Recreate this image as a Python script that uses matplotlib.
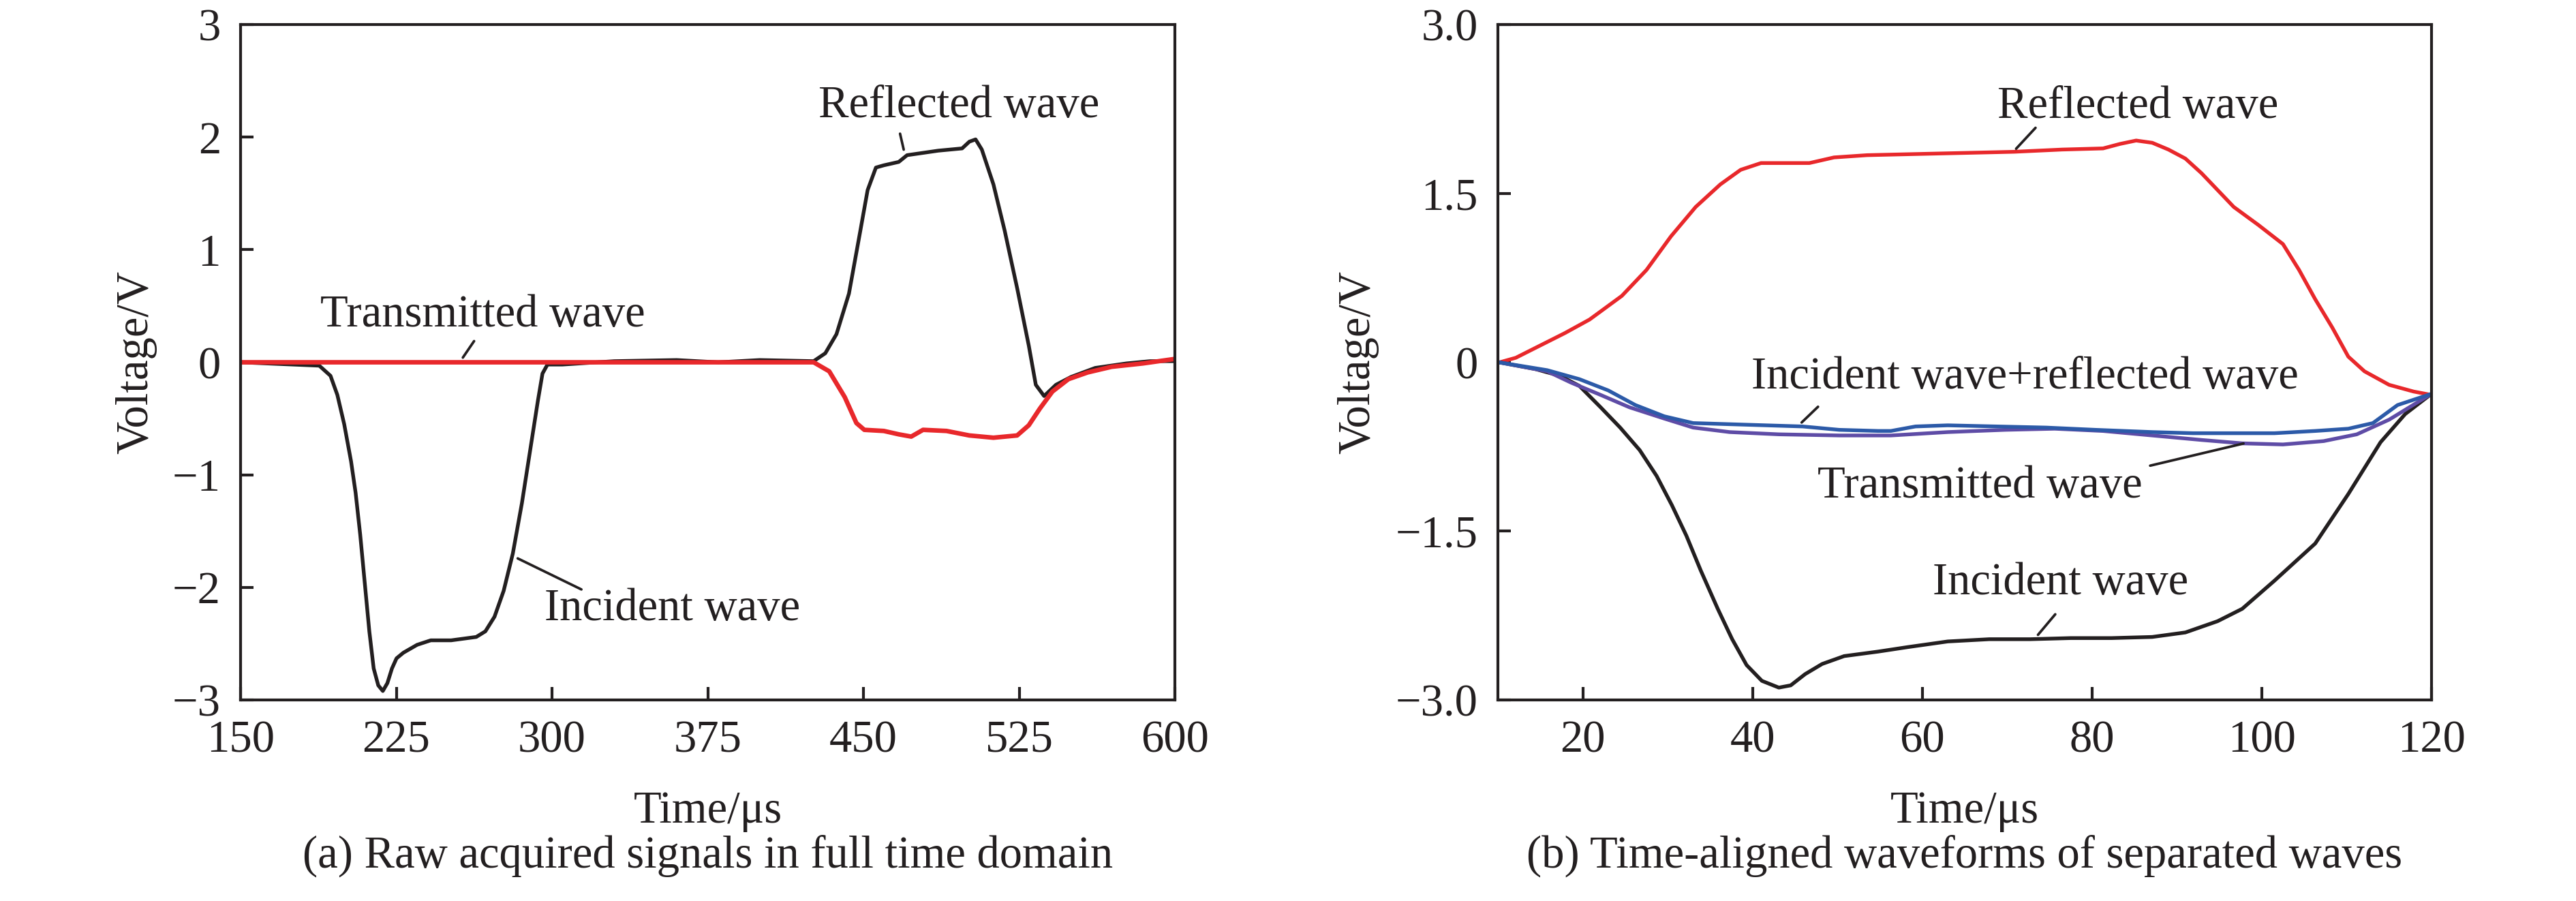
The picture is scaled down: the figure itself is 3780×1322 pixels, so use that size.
import matplotlib.pyplot as plt

plt.rcParams['font.family'] = ['Liberation Serif', 'DejaVu Serif']
plt.rcParams['font.size'] = 16
plt.rcParams['axes.unicode_minus'] = True

# (a) raw acquired signals: black = incident + reflected, red = transmitted
raw_t = [150, 187.9, 193.3, 196.6, 199.9, 203.2, 205.4, 207.6, 209.8, 212, 214.1, 216.3, 218.5,
         220.7, 222.9, 225.1, 228.4, 235, 241.6, 251.4, 263.5, 267.9, 272.3, 276.7, 281.1, 285.5,
         289.9, 293.2, 295.4, 297.8, 305, 330, 360, 380, 400, 426, 431.6, 437,
         443, 448.5, 452, 456, 459.8, 467, 471, 486, 497.5, 501, 504, 507, 512.6, 518, 524,
         529.6, 533, 537, 542.7, 550, 561.6, 576.7, 588, 600]
raw_v = [0, -0.03, -0.12, -0.29, -0.55, -0.88, -1.16, -1.53, -1.96, -2.39, -2.72, -2.87, -2.92,
         -2.85, -2.72, -2.63, -2.58, -2.51, -2.47, -2.47, -2.44, -2.39, -2.26, -2.03, -1.70, -1.25,
         -0.73, -0.34, -0.10, -0.02, -0.02, 0.01, 0.02, 0.0, 0.02, 0.01, 0.08, 0.25,
         0.61, 1.17, 1.53, 1.73, 1.75, 1.78, 1.84, 1.88, 1.90, 1.96, 1.98, 1.89, 1.58, 1.17, 0.66,
         0.15, -0.20, -0.30, -0.20, -0.13, -0.05, -0.01, 0.01, 0.01]
trans_t = [150, 300, 426, 433.5, 441, 446.6, 450.4, 459.8, 467, 473, 478.7, 490, 501, 512.6,
           524, 529.6, 535, 541, 548.7, 558, 569.5, 584.6, 600]
trans_v = [0, 0, 0, -0.08, -0.31, -0.54, -0.60, -0.61, -0.64, -0.66, -0.60, -0.61, -0.65, -0.67,
           -0.65, -0.56, -0.41, -0.26, -0.15, -0.09, -0.04, -0.01, 0.03]

# (b) time-aligned separated waves
refl_t = [10.2, 12.1, 15, 17.9, 20.8, 24.6, 27.5, 30.4, 33.3, 36.2, 38.6, 41, 43.8, 46.7, 49.6,
          53.5, 59.2, 65, 70.8, 76.5, 81.3, 83.3, 85.2, 87.1, 89, 91, 92.9, 94.8, 96.7, 99.6,
          102.5, 104.4, 106.3, 108.3, 110.2, 112.1, 115, 117.9, 120]
refl_v = [0, 0.04, 0.15, 0.26, 0.38, 0.59, 0.82, 1.12, 1.38, 1.58, 1.71, 1.77, 1.77, 1.77, 1.82,
          1.84, 1.85, 1.86, 1.87, 1.89, 1.90, 1.94, 1.97, 1.95, 1.89, 1.81, 1.68, 1.53, 1.38, 1.22,
          1.05, 0.82, 0.56, 0.31, 0.05, -0.08, -0.20, -0.26, -0.29]
inc_t = [10.1, 14.4, 17.3, 19.6, 22.1, 24.4, 26.7, 28.7, 30.5, 32.2, 33.9, 35.9, 37.6, 39.3, 41.1,
         43.1, 44.5, 46.2, 48.2, 50.8, 54.8, 58.3, 63, 67.9, 72.7, 77.5, 82.3, 87.1, 91, 94.8,
         97.7, 101.5, 106.3, 110.2, 114, 116.9, 120]
inc_v = [0, -0.06, -0.12, -0.21, -0.40, -0.58, -0.78, -1.01, -1.27, -1.54, -1.85, -2.19, -2.46,
         -2.69, -2.83, -2.89, -2.87, -2.77, -2.68, -2.61, -2.57, -2.53, -2.48, -2.46, -2.46, -2.45,
         -2.45, -2.44, -2.40, -2.30, -2.19, -1.94, -1.61, -1.17, -0.71, -0.46, -0.28]
sum_t = [10.1, 15.8, 19.6, 23, 26.2, 29.6, 33, 37.3, 41.6, 45.9, 50.2, 54.8, 56.3, 59.2, 63, 68.8,
         74.6, 80.4, 87.1, 91.9, 96.7, 101.5, 106.3, 110.2, 113.1, 116, 120]
sum_v = [0, -0.07, -0.15, -0.25, -0.38, -0.48, -0.54, -0.55, -0.56, -0.57, -0.60, -0.61, -0.61,
         -0.57, -0.56, -0.57, -0.58, -0.60, -0.62, -0.63, -0.63, -0.63, -0.61, -0.59, -0.54, -0.38,
         -0.28]
tr_t = [10.1, 15.8, 18.6, 22.1, 25.5, 29.6, 33, 37.3, 43.1, 50.2, 56.3, 63, 69.8, 75.6, 81.3,
        87.1, 92.9, 97.7, 102.5, 107.3, 111.2, 115, 120]
tr_v = [0, -0.08, -0.18, -0.29, -0.40, -0.50, -0.58, -0.62, -0.64, -0.65, -0.65, -0.62, -0.60,
        -0.59, -0.61, -0.65, -0.69, -0.72, -0.73, -0.70, -0.64, -0.51, -0.28]

red = '#e8282b'
blk = '#231f20'
blue = '#2c5aa8'
purple = '#5e4ca6'
lw = 1.3

fig = plt.figure(figsize=(12.6, 4.4067), dpi=300)
ax1 = fig.add_axes([0.0934, 0.2231, 0.3627, 0.7496])
ax2 = fig.add_axes([0.5815, 0.2231, 0.3624, 0.7496])

for ax in (ax1, ax2):
    for sp in ax.spines.values():
        sp.set_linewidth(1.0)
        sp.set_color(blk)
    ax.tick_params(direction='in', length=4.5, width=1.0, color=blk, pad=7,
                   top=False, right=False, labelsize=16, labelcolor=blk)

line_kw = dict(lw=lw, solid_joinstyle='round', solid_capstyle='round')
lead = dict(arrowstyle='-', lw=0.9, color=blk)

# ---- (a)
ax1.plot(raw_t, raw_v, color=blk, **line_kw)
ax1.plot(trans_t, trans_v, color=red, lw=1.6, solid_joinstyle='round')
ax1.set_xlim(150, 600)
ax1.set_ylim(-3, 3)
ax1.set_xticks([150, 225, 300, 375, 450, 525, 600])
ax1.set_yticks([-3, -2, -1, 0, 1, 2, 3])

ax1.text(496, 2.28, 'Reflected wave', ha='center', va='center', color=blk)
ax1.annotate('', xy=(470, 1.84), xytext=(467, 2.08), arrowprops=lead)
ax1.text(266.5, 0.42, 'Transmitted wave', ha='center', va='center', color=blk)
ax1.annotate('', xy=(255.5, 0.0), xytext=(264, 0.23), arrowprops=lead)
ax1.text(358, -2.19, 'Incident wave', ha='center', va='center', color=blk)
ax1.annotate('', xy=(281, -1.72), xytext=(316.6, -2.04), arrowprops=lead)

ax1.text(-0.112, 0.5, 'Voltage/V', rotation=90, ha='center', va='center', transform=ax1.transAxes, color=blk)
ax1.text(0.5, -0.165, 'Time/μs', ha='center', va='center', transform=ax1.transAxes, color=blk)
fig.text(0.0934 + 0.3627 / 2, 0.05, '(a) Raw acquired signals in full time domain', ha='center', va='center', color=blk)

# ---- (b)
ax2.plot(refl_t, refl_v, color=red, **line_kw)
ax2.plot(inc_t, inc_v, color=blk, **line_kw)
ax2.plot(tr_t, tr_v, color=purple, **line_kw)
ax2.plot(sum_t, sum_v, color=blue, **line_kw)
ax2.set_xlim(10, 120)
ax2.set_ylim(-3, 3)
ax2.set_xticks([20, 40, 60, 80, 100, 120])
ax2.set_yticks([-3, -1.5, 0, 1.5, 3])
ax2.set_yticklabels(['\u22123.0', '\u22121.5', '0', '1.5', '3.0'])

ax2.text(85.4, 2.27, 'Reflected wave', ha='center', va='center', color=blk)
ax2.annotate('', xy=(70.6, 1.86), xytext=(73.8, 2.12), arrowprops=lead)
ax2.text(72.1, -0.13, 'Incident wave+reflected wave', ha='center', va='center', color=blk)
ax2.annotate('', xy=(45.3, -0.57), xytext=(48.2, -0.36), arrowprops=lead)
ax2.text(66.8, -1.10, 'Transmitted wave', ha='center', va='center', color=blk)
ax2.annotate('', xy=(98.5, -0.71), xytext=(86.2, -0.93), arrowprops=lead)
ax2.text(76.3, -1.96, 'Incident wave', ha='center', va='center', color=blk)
ax2.annotate('', xy=(73.2, -2.46), xytext=(76.1, -2.20), arrowprops=lead)

ax2.text(-0.15, 0.5, 'Voltage/V', rotation=90, ha='center', va='center', transform=ax2.transAxes, color=blk)
ax2.text(0.5, -0.165, 'Time/μs', ha='center', va='center', transform=ax2.transAxes, color=blk)
fig.text(0.5815 + 0.3624 / 2, 0.05, '(b) Time-aligned waveforms of separated waves', ha='center', va='center', color=blk)

fig.savefig('out.png', dpi=300)
